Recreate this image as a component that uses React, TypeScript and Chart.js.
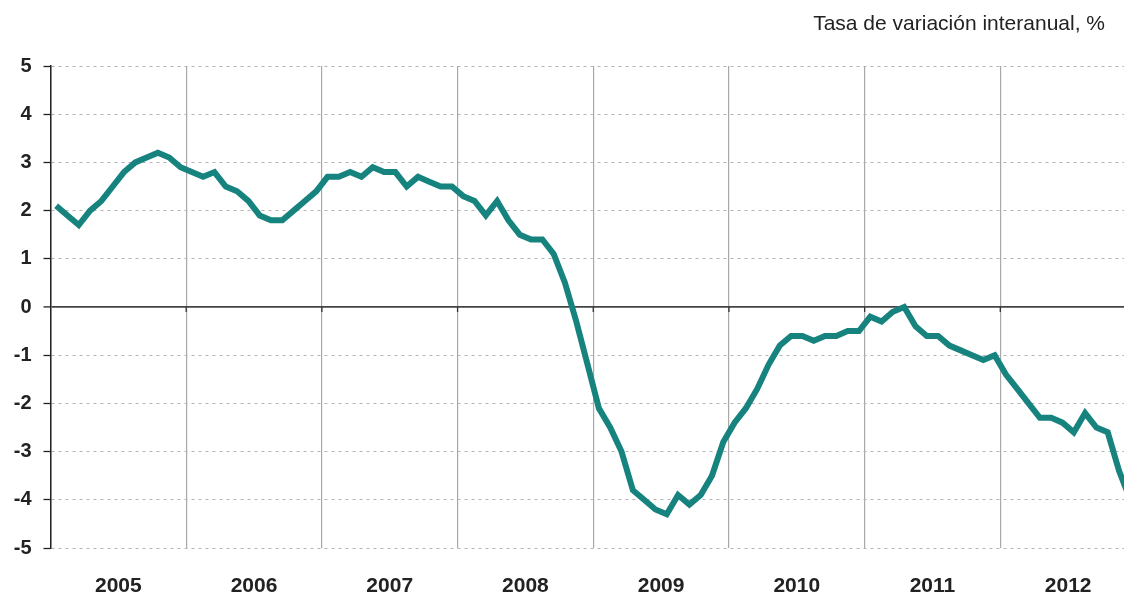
import React, { useEffect, useRef } from "react";
import { Chart, registerables } from "chart.js";

Chart.register(...registerables);

const titleText = "Tasa de variación interanual, %";
const yearLabels = ["2005", "2006", "2007", "2008", "2009", "2010", "2011", "2012"];

const values2005 = [2.1, 1.9, 1.7, 2.0, 2.2, 2.5, 2.8, 3.0, 3.1, 3.2, 3.1, 2.9];
const values2006 = [2.8, 2.7, 2.8, 2.5, 2.4, 2.2, 1.9, 1.8, 1.8, 2.0, 2.2, 2.4];
const values2007 = [2.7, 2.7, 2.8, 2.7, 2.9, 2.8, 2.8, 2.5, 2.7, 2.6, 2.5, 2.5];
const values2008 = [2.3, 2.2, 1.9, 2.2, 1.8, 1.5, 1.4, 1.4, 1.1, 0.5, -0.3, -1.2];
const values2009 = [-2.1, -2.5, -3.0, -3.8, -4.0, -4.2, -4.3, -3.9, -4.1, -3.9, -3.5, -2.8];
const values2010 = [-2.4, -2.1, -1.7, -1.2, -0.8, -0.6, -0.6, -0.7, -0.6, -0.6, -0.5, -0.5];
const values2011 = [-0.2, -0.3, -0.1, 0.0, -0.4, -0.6, -0.6, -0.8, -0.9, -1.0, -1.1, -1.0];
const values2012 = [-1.4, -1.7, -2.0, -2.3, -2.3, -2.4, -2.6, -2.2, -2.5, -2.6, -3.4, -4.0];

const seriesValues = [
  ...values2005, ...values2006, ...values2007, ...values2008,
  ...values2009, ...values2010, ...values2011, ...values2012,
];

const Y_MIN = -5;
const Y_MAX = 5;
const MONTHS_PER_YEAR = 12;

const TEAL = "#16837F";
const FONT = '"Liberation Sans", Arial, Helvetica, sans-serif';

export default function App() {
  const canvasRef = useRef<HTMLCanvasElement | null>(null);

  useEffect(() => {
    const canvas = canvasRef.current;
    if (!canvas) return;
    const totalMonths = yearLabels.length * MONTHS_PER_YEAR;

    const overlay = {
      id: "overlay",
      beforeDatasetsDraw(chart: any) {
        const { ctx, scales } = chart;
        const xs = scales.x;
        const ys = scales.y;
        const y0 = ys.getPixelForValue(0);
        ctx.save();
        ctx.strokeStyle = "#333";
        ctx.lineWidth = 1.3;
        for (let k = 1; k < yearLabels.length; k++) {
          const px = xs.getPixelForValue(k * MONTHS_PER_YEAR);
          ctx.beginPath();
          ctx.moveTo(px, y0);
          ctx.lineTo(px, y0 + 5);
          ctx.stroke();
        }
        ctx.restore();
      },
      afterDraw(chart: any) {
        const { ctx } = chart;
        ctx.save();
        ctx.font = `21px ${FONT}`;
        ctx.fillStyle = "#222";
        ctx.textAlign = "right";
        ctx.textBaseline = "middle";
        ctx.fillText(titleText, 1105, 24);
        ctx.restore();
      },
    };

    const chart = new Chart(canvas, {
      type: "line",
      data: {
        datasets: [
          {
            data: seriesValues.map((v, i) => ({ x: i + 0.5, y: v })),
            borderColor: TEAL,
            backgroundColor: TEAL,
            borderWidth: 6,
            pointRadius: 0,
            tension: 0,
            fill: false,
          },
        ],
      },
      options: {
        responsive: false,
        animation: false,
        devicePixelRatio: 1,
        layout: { padding: { top: 66, right: 4, left: 0, bottom: 0 } },
        plugins: { legend: { display: false }, tooltip: { enabled: false }, title: { display: false } },
        scales: {
          x: {
            type: "linear",
            min: 0,
            max: totalMonths,
            position: "bottom",
            ticks: { display: false, stepSize: MONTHS_PER_YEAR },
            grid: { color: "#a8a8a8", lineWidth: 1.2, drawTicks: false },
            border: { display: false },
            afterFit: (s: any) => { s.height = 0; },
          },
          x2: {
            type: "linear",
            min: 0,
            max: totalMonths,
            position: "bottom",
            grid: { display: false, drawTicks: false },
            border: { display: false },
            afterBuildTicks: (s: any) => {
              s.ticks = yearLabels.map((_, i) => ({ value: i * MONTHS_PER_YEAR + MONTHS_PER_YEAR / 2 }));
            },
            ticks: {
              autoSkip: false,
              maxRotation: 0,
              padding: 26,
              color: "#222",
              font: { family: FONT, size: 21, weight: "bold" },
              callback: (_v: any, i: number) => yearLabels[i],
            },
            afterFit: (s: any) => { s.height = 46; },
          },
          y: {
            min: Y_MIN,
            max: Y_MAX,
            ticks: {
              stepSize: 1,
              padding: 12,
              color: "#222",
              font: { family: FONT, size: 20, weight: "bold" },
            },
            grid: {
              color: (c: any) => (c.tick && c.tick.value === 0 ? "#444" : "#b4b4b4"),
              lineWidth: (c: any) => (c.tick && c.tick.value === 0 ? 1.8 : 1),
              tickColor: "#222",
              tickLength: 7,
              tickWidth: 1.3,
            },
            border: {
              display: true,
              color: "#222",
              width: 1.5,
              dash: (c: any) => (c.tick && c.tick.value !== 0 ? [3, 4] : []),
            },
            afterFit: (s: any) => { s.width = 50.5; },
          },
        },
      },
      plugins: [overlay],
    } as any);

    return () => chart.destroy();
  }, []);

  return (
    <div
      style={{
        position: "fixed",
        left: 0,
        top: 0,
        width: 1124,
        height: 594,
        overflow: "hidden",
        background: "#fff",
      }}
    >
      <canvas ref={canvasRef} width={1140} height={594} style={{ display: "block" }} />
    </div>
  );
}
